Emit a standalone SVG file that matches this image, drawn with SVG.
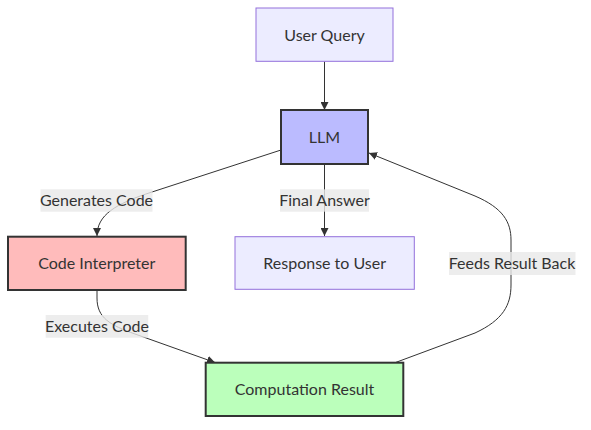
<svg xmlns="http://www.w3.org/2000/svg" width="591" height="430" viewBox="0 0 591 430">
<style>
text{font-family:Lato,"Liberation Sans","DejaVu Sans",sans-serif;font-size:16px;fill:#333;text-anchor:middle;dominant-baseline:central}
.def{fill:#ECECFF;stroke:#9370DB;stroke-width:1}
.llm{fill:#bbbbff;stroke:#333;stroke-width:2}
.ci{fill:#ffbbbb;stroke:#333;stroke-width:2}
.cr{fill:#bbffbb;stroke:#333;stroke-width:2}
.edge{fill:none;stroke:#333;stroke-width:1}
.lbl{fill:#e8e8e8;opacity:0.8}
</style>
<defs>
<marker id="arr" viewBox="0 0 10 10" refX="10" refY="5" markerUnits="userSpaceOnUse" markerWidth="8" markerHeight="8" orient="auto">
<path d="M0,0 L10,5 L0,10 z" fill="#333"/>
</marker>
</defs>
<rect width="591" height="430" fill="#fff"/>
<g id="connectors">
<path class="edge" d="M324.5,61.5 L324.5,110" marker-end="url(#arr)"/>
<path class="edge" d="M281,150 L152,192 C115,204 97,215 97,236" marker-end="url(#arr)"/>
<path class="edge" d="M324.5,164 L324.5,236" marker-end="url(#arr)"/>
<path class="edge" d="M97,290 L97,298 C97,318 110,325 135,334 L215,362.5" marker-end="url(#arr)"/>
<path class="edge" d="M395,362.7 L475,333 C503,320 511,305 511,285 L511,240 C511,222 503,208 475,196 L369,153" marker-end="url(#arr)"/>
</g>
<g id="edge-labels">
<g id="label-generates"><rect class="lbl" x="40.5" y="189.3" width="112" height="22.4"/><text x="96.5" y="199.8">Generates Code</text></g>
<g id="label-final"><rect class="lbl" x="280" y="189.3" width="89" height="22.4"/><text x="324.5" y="199.8">Final Answer</text></g>
<g id="label-feeds"><rect class="lbl" x="449" y="252" width="126.5" height="23"/><text x="512" y="262.8">Feeds Result Back</text></g>
<g id="label-executes"><rect class="lbl" x="45.7" y="315" width="102.5" height="22.7"/><text x="97" y="325.6">Executes Code</text></g>
</g>
<g id="node-userquery"><rect class="def" x="256" y="8" width="137" height="53.3"/><text x="324.5" y="34">User Query</text></g>
<g id="node-llm"><rect class="llm" x="281" y="110" width="87" height="54"/><text x="324.5" y="136.3">LLM</text></g>
<g id="node-codeinterpreter"><rect class="ci" x="8" y="236.7" width="177.7" height="53.3"/><text x="96.8" y="262.6">Code Interpreter</text></g>
<g id="node-response"><rect class="def" x="235" y="236.7" width="179.3" height="52.6"/><text x="324.7" y="262.3">Response to User</text></g>
<g id="node-computation"><rect class="cr" x="205.7" y="362.7" width="197.6" height="53.3"/><text x="304.5" y="388.6">Computation Result</text></g>
</svg>
